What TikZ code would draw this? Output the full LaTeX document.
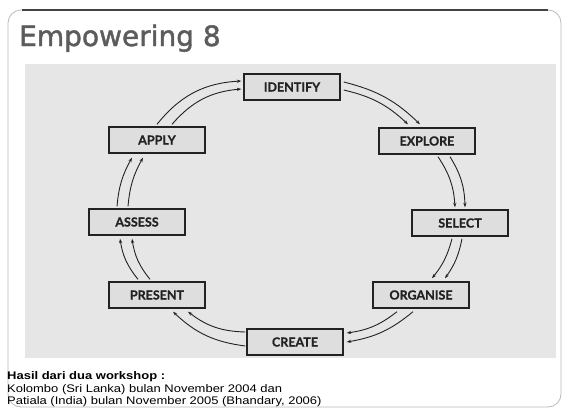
\documentclass[tikz,border=0pt]{standalone}
\usepackage{fontspec}
\setmainfont{Liberation Sans}
\newfontfamily\titlefont[FakeBold=1.6]{DejaVu Sans}
\newfontfamily\footfont[FakeStretch=1.18]{Liberation Sans}
\newfontfamily\boxfont[FakeBold=0.8]{Lato}
\usetikzlibrary{arrows.meta,calc}
\definecolor{scan}{HTML}{E6E6E6}
\definecolor{boxfill}{HTML}{DEDEDE}
\definecolor{ink}{HTML}{222222}
\definecolor{titlegray}{HTML}{5C5C5C}
\tikzset{
  stagebox/.style={draw=ink, line width=1.4pt, fill=boxfill, minimum width=96pt, minimum height=26pt, inner sep=0pt,
    font=\boxfont\bfseries\fontsize{12.5}{13}\selectfont, text=ink},
  flow/.style={draw=ink, line width=0.9pt, -{Stealth[length=4.5pt,width=3.2pt]}},
  foot/.style={anchor=base west, inner sep=0pt, font=\footfont\fontsize{11}{12}\selectfont, text=black}
}
\begin{document}
\begin{tikzpicture}[x=1pt,y=-1pt]
\useasboundingbox (0,0) rectangle (563,410);
% frame
\draw[gray!55, line width=0.8pt, rounded corners=13pt] (8,10) rectangle (561,407);
\draw[ink!85, line width=1.6pt] (22,10) -- (548,10);
% title
\node[anchor=base west, inner sep=0pt, font=\titlefont\fontsize{28}{30}\selectfont, text=titlegray] (title) at (19,46) {Empowering 8};
% scanned area
\fill[scan] (25,64) rectangle (556,358);
% stages
\node[stagebox] (identify) at (292,87) {IDENTIFY};
\node[stagebox] (explore) at (427,141) {EXPLORE};
\node[stagebox] (select) at (460,223) {SELECT};
\node[stagebox] (organise) at (421,295) {ORGANISE};
\node[stagebox] (create) at (295,342) {CREATE};
\node[stagebox] (present) at (157,295) {PRESENT};
\node[stagebox] (assess) at (137,222) {ASSESS};
\node[stagebox] (apply) at (157,140) {APPLY};
% arrows (outer and inner)
\draw[flow] ($(apply.north)+(0,-2)$) to[bend left=24] ($(identify.west)+(-2,-6)$);
\draw[flow] ($(apply.north)+(15,-2)$) to[bend left=22] ($(identify.west)+(-2,2)$);
\draw[flow] ($(identify.east)+(3,-5)$) to[bend left=15] ($(explore.north)+(-7,-3)$);
\draw[flow] ($(identify.east)+(3,3)$) to[bend left=15] ($(explore.north)+(-19,-3)$);
\draw[flow] ($(explore.south)+(23,2)$) to[bend left=15] ($(select.north)+(5,-2)$);
\draw[flow] ($(explore.south)+(11,2)$) to[bend left=15] ($(select.north)+(-5,-2)$);
\draw[flow] ($(select.south)+(2,2)$) to[bend left=12] ($(organise.north)+(24,-3)$);
\draw[flow] ($(select.south)+(-8,2)$) to[bend left=12] ($(organise.north)+(11,-3)$);
\draw[flow] ($(organise.south)+(-8,3)$) to[bend left=15] ($(create.east)+(3,0)$);
\draw[flow] ($(organise.south)+(-24,3)$) to[bend left=15] ($(create.east)+(3,-9)$);
\draw[flow] ($(create.west)+(-1,4)$) to[bend left=18] ($(present.south)+(16,3)$);
\draw[flow] ($(create.west)+(-1,-10)$) to[bend left=18] ($(present.south)+(31,3)$);
\draw[flow] ($(present.north)+(-19,-2)$) to[bend left=15] ($(assess.south)+(-17,3)$);
\draw[flow] ($(present.north)+(-7,-2)$) to[bend left=15] ($(assess.south)+(-5,3)$);
\draw[flow] ($(assess.north)+(-20,-2)$) to[bend left=12] ($(apply.south)+(-25,4)$);
\draw[flow] ($(assess.north)+(-9,-2)$) to[bend left=12] ($(apply.south)+(-14,4)$);
% footer
\node[foot, font=\footfont\bfseries\fontsize{11}{12}\selectfont] (f1) at (7,379) {Hasil dari dua workshop :};
\node[foot] (f2) at (7,392) {Kolombo (Sri Lanka) bulan November 2004 dan};
\node[foot] (f3) at (7,404.5) {Patiala (India) bulan November 2005 (Bhandary, 2006)};
\end{tikzpicture}
\end{document}
